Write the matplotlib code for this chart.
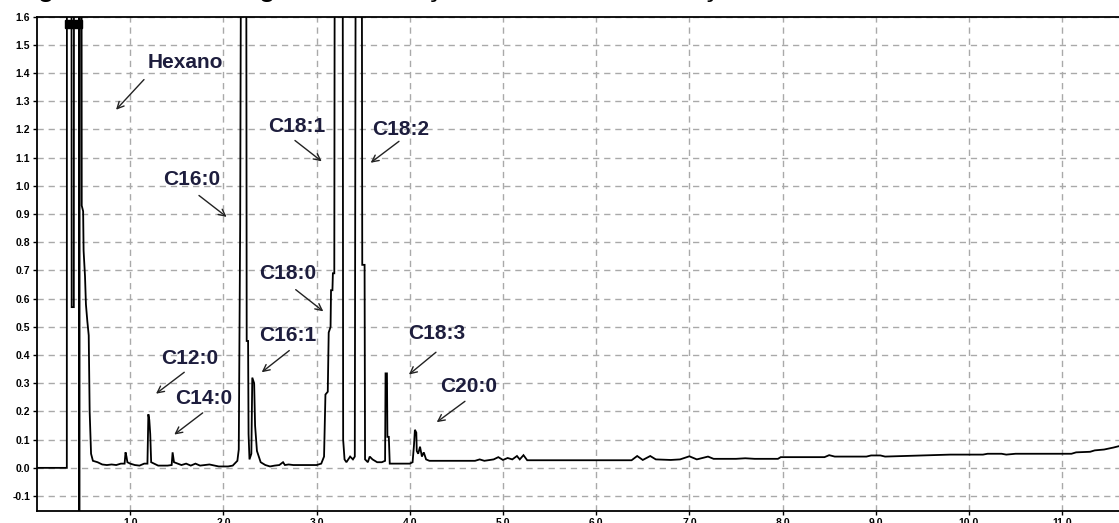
import matplotlib
matplotlib.use("Agg")
import matplotlib.pyplot as plt

# retention time (min) and detector signal
# (values above the axis top are off-scale peaks)
time_min = [
    0.00, 0.32, 0.321, 0.370, 0.372, 0.395, 0.397, 0.450, 0.452, 0.456,
    0.458, 0.478, 0.480, 0.495, 0.500, 0.515, 0.525, 0.540, 0.555, 0.565,
    0.580, 0.600, 0.650, 0.700, 0.750, 0.800, 0.850, 0.900, 0.940, 0.950,
    0.960, 0.970, 1.000, 1.050, 1.100, 1.150, 1.185, 1.195, 1.205, 1.215,
    1.225, 1.300, 1.400, 1.445, 1.455, 1.470, 1.550, 1.600, 1.650, 1.700,
    1.750, 1.850, 1.950, 2.050, 2.100, 2.150, 2.165, 2.180, 2.190, 2.245,
    2.250, 2.265, 2.270, 2.280, 2.300, 2.310, 2.330, 2.340, 2.360, 2.400,
    2.450, 2.500, 2.550, 2.600, 2.640, 2.660, 2.700, 2.750, 2.800, 2.900,
    3.000, 3.050, 3.080, 3.095, 3.120, 3.130, 3.150, 3.155, 3.170, 3.175,
    3.190, 3.195, 3.280, 3.285, 3.300, 3.320, 3.340, 3.360, 3.390, 3.410,
    3.420, 3.485, 3.490, 3.515, 3.520, 3.550, 3.570, 3.600, 3.650, 3.700,
    3.735, 3.740, 3.755, 3.760, 3.775, 3.785, 3.900, 4.000, 4.030, 4.045,
    4.055, 4.070, 4.075, 4.090, 4.110, 4.130, 4.150, 4.175, 4.210, 4.700,
    4.750, 4.800, 4.900, 4.950, 5.000, 5.050, 5.100, 5.150, 5.180, 5.220,
    5.260, 5.500, 6.000, 6.380, 6.440, 6.500, 6.580, 6.640, 6.800, 6.900,
    7.000, 7.080, 7.200, 7.260, 7.500, 7.600, 7.700, 7.950, 7.980, 8.450,
    8.500, 8.560, 8.600, 8.900, 8.950, 9.050, 9.100, 9.800, 10.150, 10.200,
    10.350, 10.400, 10.500, 11.100, 11.150, 11.300, 11.350, 11.450, 11.550, 11.610,
]
signal = [
    0.000, 0.000, 2.0, 2.0, 0.57, 0.57, 2.0, 2.0, -0.20, -0.20,
    2.0, 2.0, 0.93, 0.91, 0.77, 0.68, 0.58, 0.52, 0.47, 0.20,
    0.05, 0.025, 0.020, 0.012, 0.010, 0.012, 0.010, 0.015, 0.015, 0.055,
    0.040, 0.020, 0.015, 0.010, 0.008, 0.015, 0.015, 0.19, 0.17, 0.12,
    0.020, 0.008, 0.008, 0.010, 0.055, 0.020, 0.010, 0.015, 0.008, 0.015,
    0.008, 0.012, 0.005, 0.005, 0.008, 0.025, 0.065, 0.86, 2.0, 2.0,
    0.45, 0.45, 0.12, 0.03, 0.05, 0.32, 0.30, 0.15, 0.06, 0.02,
    0.010, 0.005, 0.008, 0.010, 0.020, 0.010, 0.012, 0.010, 0.010, 0.010,
    0.010, 0.015, 0.040, 0.26, 0.27, 0.48, 0.50, 0.63, 0.63, 0.69,
    0.69, 2.0, 2.0, 0.10, 0.030, 0.020, 0.030, 0.040, 0.030, 0.040,
    2.0, 2.0, 0.72, 0.72, 0.030, 0.020, 0.040, 0.030, 0.020, 0.020,
    0.025, 0.335, 0.335, 0.11, 0.11, 0.015, 0.015, 0.015, 0.020, 0.08,
    0.135, 0.125, 0.06, 0.05, 0.075, 0.04, 0.055, 0.03, 0.025, 0.025,
    0.030, 0.025, 0.030, 0.038, 0.028, 0.035, 0.030, 0.042, 0.030, 0.045,
    0.027, 0.027, 0.027, 0.027, 0.042, 0.028, 0.042, 0.030, 0.028, 0.030,
    0.041, 0.030, 0.040, 0.032, 0.032, 0.034, 0.032, 0.032, 0.038, 0.038,
    0.045, 0.040, 0.040, 0.040, 0.044, 0.044, 0.040, 0.047, 0.047, 0.050,
    0.050, 0.047, 0.050, 0.050, 0.055, 0.057, 0.062, 0.065, 0.072, 0.077,
]

# off-scale flags drawn at the top of the solvent peaks
flag_time = [0.345, 0.44]
flag_level = [1.575, 1.575]

peak_labels = ["Hexano", "C12:0", "C14:0", "C16:0", "C16:1",
               "C18:0", "C18:1", "C18:2", "C18:3", "C20:0"]
label_xy = [(1.588, 1.438), (1.642, 0.388), (1.792, 0.246), (1.663, 1.022),
            (2.688, 0.469), (2.688, 0.689), (2.784, 1.209), (3.906, 1.199),
            (4.292, 0.476), (4.632, 0.289)]
arrow_tail = [(1.148, 1.377), (1.580, 0.339), (1.778, 0.195), (1.738, 0.966),
              (2.707, 0.416), (2.776, 0.632), (2.768, 1.161), (3.884, 1.158),
              (4.281, 0.410), (4.592, 0.236)]
arrow_head = [(0.848, 1.270), (1.277, 0.263), (1.473, 0.118), (2.035, 0.890),
              (2.411, 0.339), (3.072, 0.555), (3.055, 1.087), (3.580, 1.082),
              (3.991, 0.331), (4.289, 0.162)]

x_ticks = list(range(1, 12))
y_ticks = [round(-0.1 + 0.1 * i, 1) for i in range(18)]

W, H = 1119, 523
fig = plt.figure(figsize=(W / 100, H / 100), dpi=100)
fig.patch.set_facecolor("white")

# title line, mostly cut off at the top of the picture
fig.text(14 / W, 1 + 4.5 / H, "Figura 6 \u2013 Cromatograma da reação de transesterificação",
         family="Liberation Sans", fontweight="bold", fontsize=19.4,
         va="baseline", ha="left", color="black")

ax = fig.add_axes([37 / W, 12 / H, (W - 37) / W, (511 - 16.7) / H])
ax.set_xlim(0, 11.61)
ax.set_ylim(-0.153, 1.6)

ax.plot(time_min, signal, color="black", lw=1.3, solid_joinstyle="miter")
ax.plot(flag_time, flag_level, ls="none", marker="s", ms=6, color="black")

for txt, xy, tail, head in zip(peak_labels, label_xy, arrow_tail, arrow_head):
    ax.text(xy[0], xy[1], txt, ha="center", va="center", fontsize=15,
            fontweight="bold", family="Liberation Sans", color="#1d1d3d")
    ax.annotate("", xy=head, xytext=tail,
                arrowprops=dict(arrowstyle="->", lw=1.0, color="#222222",
                                shrinkA=0, shrinkB=0, mutation_scale=12))

ax.set_xticks(x_ticks)
ax.set_xticklabels([f"{v:.1f}" for v in x_ticks])
ax.set_yticks(y_ticks)
ax.set_yticklabels([f"{v:.1f}" for v in y_ticks])
ax.tick_params(axis="both", direction="out", length=3, width=1, pad=2,
               labelsize=7.5, colors="black")
for lab in ax.get_xticklabels() + ax.get_yticklabels():
    lab.set_fontweight("bold")
    lab.set_family("Liberation Sans")
ax.text(11.47, -0.2, "min", fontsize=7.5, fontweight="bold",
        family="Liberation Sans", ha="center", va="top", clip_on=False)

ax.grid(True, color="#a9a9a9", lw=1.0, ls=(0, (4.5, 3.5)))
ax.set_axisbelow(True)
for side in ["left", "bottom", "top"]:
    ax.spines[side].set_linewidth(1.3)
    ax.spines[side].set_color("black")
ax.spines["right"].set_visible(False)

fig.savefig("out.png", dpi=100, facecolor="white")
